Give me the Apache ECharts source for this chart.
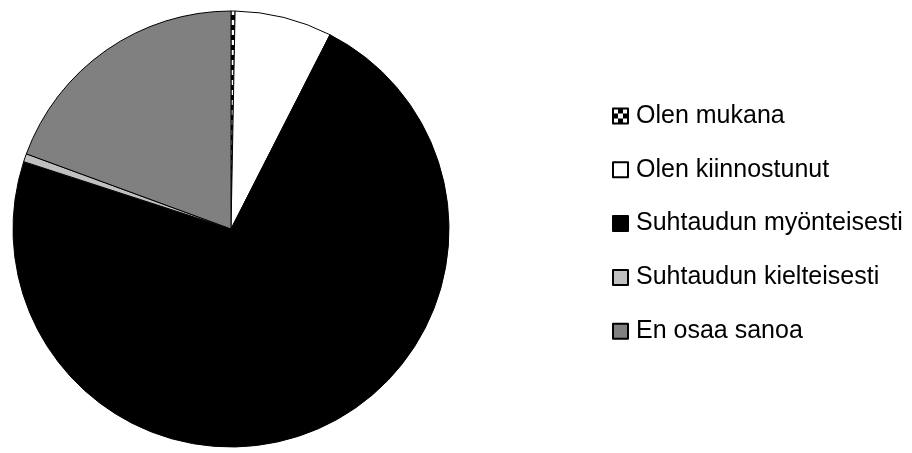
<!DOCTYPE html>
<html>
<head>
<meta charset="utf-8">
<script src="https://cdn.jsdelivr.net/npm/echarts@6/dist/echarts.min.js"></script>
<style>
html,body{margin:0;padding:0;background:#fff;}
#chart{width:912px;height:453px;}
</style>
</head>
<body>
<div id="chart"></div>
<script>
const categories = ['Olen mukana', 'Olen kiinnostunut', 'Suhtaudun myönteisesti', 'Suhtaudun kielteisesti', 'En osaa sanoa'];
const values = [0.3, 7.2, 72.5, 0.6, 19.4];

function checker() {
  const c = document.createElement('canvas');
  c.width = 10; c.height = 10;
  const g = c.getContext('2d');
  g.fillStyle = '#ffffff'; g.fillRect(0, 0, 10, 10);
  g.fillStyle = '#000000';
  g.fillRect(5, 0, 5, 5);
  g.fillRect(0, 5, 5, 5);
  return c;
}
const colors = [
  { image: checker(), repeat: 'repeat' },
  '#ffffff', '#000000', '#c0c0c0', '#808080'
];

const chart = echarts.init(document.getElementById('chart'), null, { renderer: 'canvas' });
chart.setOption({
  animation: false,
  backgroundColor: '#ffffff',
  legend: {
    orient: 'vertical',
    left: 607,
    top: 98.5,
    itemWidth: 15,
    itemHeight: 15,
    itemGap: 28.8,
    icon: 'rect',
    selectedMode: false,
    textStyle: { fontFamily: 'Liberation Sans', fontSize: 25, color: '#000', lineHeight: 25, padding: [0, 0, 0, 3] },
    data: categories
  },
  series: [{
    type: 'pie',
    center: [231, 229],
    radius: 218,
    startAngle: 90,
    clockwise: true,
    label: { show: false },
    labelLine: { show: false },
    emphasis: { disabled: true },
    itemStyle: { borderColor: '#000', borderWidth: 1 },
    data: categories.map((n, i) => ({ name: n, value: values[i], itemStyle: { color: colors[i] } }))
  }]
});
</script>
</body>
</html>
